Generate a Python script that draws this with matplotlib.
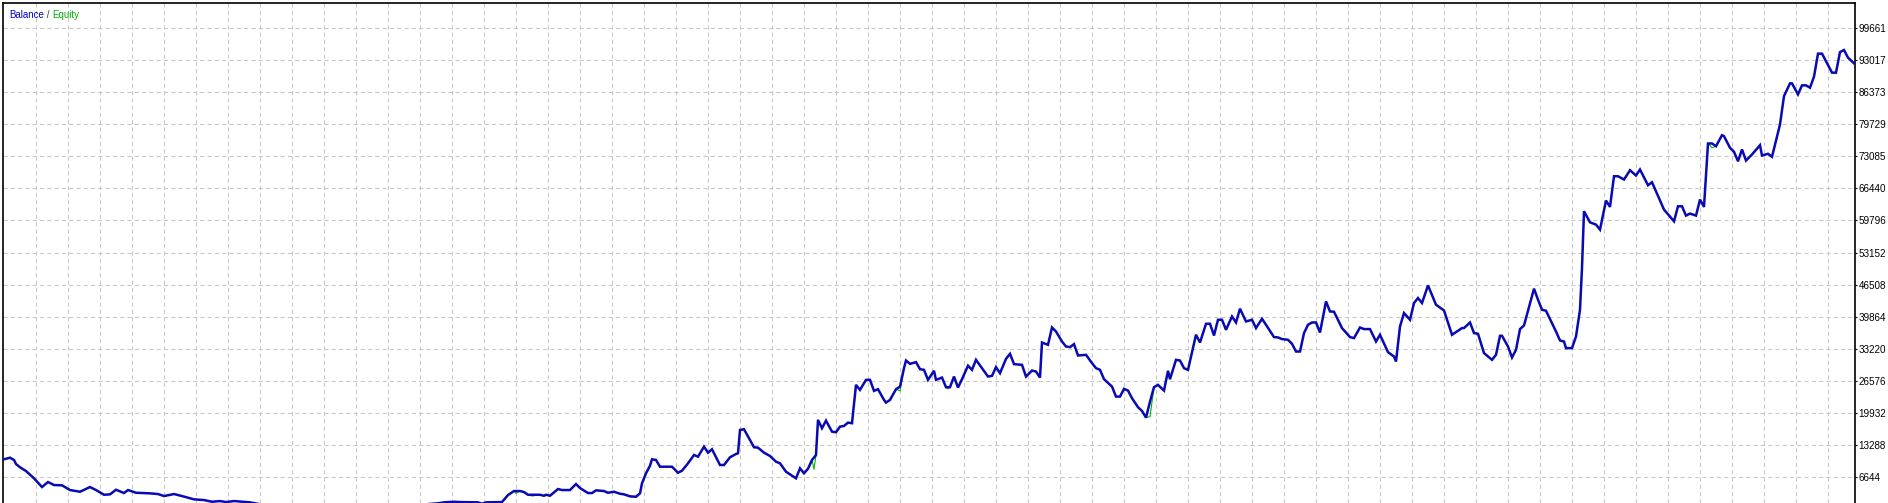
import matplotlib
matplotlib.use("Agg")
import matplotlib.pyplot as plt

# deal number vs balance
deals = [0, 3, 5, 6, 8, 11, 15, 19, 22, 25, 29, 33, 38, 43, 46, 50, 53, 56, 60, 62,
         66, 73, 77, 80, 85, 89, 95, 100, 104, 108, 111, 115, 123, 128, 143, 163, 188, 208, 217, 220,
         225, 228, 237, 239, 241, 249, 252, 255, 258, 260, 262, 268, 270, 271, 273, 277, 279, 283, 286, 288,
         292, 294, 296, 300, 302, 305, 308, 310, 313, 316, 318, 319, 321, 323, 324, 326, 328, 334, 337, 339,
         342, 345, 347, 350, 352, 354, 358, 360, 363, 366, 367, 368, 370, 375, 377, 380, 383, 386, 388, 391,
         396, 398, 400, 402, 404, 406, 407, 409, 411, 414, 416, 418, 420, 422, 424, 426, 428, 431, 433, 435,
         437, 440, 441, 443, 446, 448, 450, 451, 453, 456, 458, 460, 462, 465, 466, 469, 471, 473, 475, 477,
         479, 482, 484, 486, 489, 492, 494, 496, 498, 501, 503, 505, 509, 511, 514, 516, 518, 519, 522, 524,
         526, 529, 531, 533, 535, 537, 541, 544, 546, 548, 550, 554, 556, 558, 560, 562, 564, 567, 569, 571,
         573, 575, 577, 580, 582, 583, 586, 588, 590, 592, 594, 596, 598, 601, 603, 605, 607, 609, 611, 614,
         616, 618, 621, 624, 626, 629, 631, 635, 637, 639, 642, 644, 646, 648, 650, 652, 654, 656, 658, 661,
         663, 665, 669, 673, 675, 678, 680, 683, 686, 688, 692, 695, 696, 698, 700, 703, 705, 707, 709, 712,
         716, 720, 724, 729, 730, 733, 735, 737, 740, 744, 746, 748, 749, 752, 754, 756, 758, 760, 765, 767,
         769, 771, 776, 778, 780, 781, 784, 786, 788, 789, 790, 793, 796, 798, 801, 803, 805, 807, 810, 813,
         816, 818, 822, 824, 830, 835, 837, 839, 841, 843, 846, 848, 850, 852, 854, 856, 859, 860, 863, 865,
         867, 869, 871, 874, 878, 879, 882, 884, 888, 890, 893, 894, 897, 899, 901, 903, 905, 907, 909, 912,
         914, 916, 918, 920, 922, 925]

balance = [10313, 10645, 10168, 9338, 8653, 7885, 6370, 4565, 5603, 4980, 4918, 3943, 3590, 4565, 3943, 2967, 3050, 4005, 3320, 3943,
           3382, 3258, 3113, 2698, 3113, 2698, 2013, 1868, 1515, 1660, 1453, 1660, 1390, 1000, 800, 600, 700, 900, 1200, 1390,
           1515, 1453, 1390, 1100, 1390, 1453, 2905, 3735, 3735, 3528, 2967, 2967, 2760, 2967, 2760, 4150, 3943, 3943, 5188, 4358,
           3320, 3320, 3880, 3735, 3382, 3590, 3175, 3050, 2635, 2552, 3258, 5333, 7408, 8985, 10313, 10168, 8777, 8777, 7532, 7947,
           9483, 11205, 10852, 12927, 11682, 12388, 9130, 9130, 10728, 11413, 11558, 16393, 16538, 12803, 12720, 11682, 10998, 9815, 9483, 7740,
           6370, 8445, 7408, 8362, 10168, 11205, 18468, 16745, 18322, 16040, 15915, 17077, 17223, 17907, 17783, 25730, 24693, 26768, 26768, 24485,
           24838, 22618, 22057, 22618, 24838, 25377, 29195, 30772, 30088, 30440, 28988, 28843, 26768, 28635, 26768, 27245, 25253, 25253, 27452, 25170,
           26913, 29700, 28843, 30918, 29195, 27452, 27598, 29403, 28158, 31125, 32163, 30025, 29880, 27452, 28697, 28490, 27245, 34507, 34030, 37620,
           36790, 34715, 33677, 33553, 34175, 31810, 31955, 30233, 29195, 28843, 26913, 25377, 23302, 23302, 24900, 24547, 22970, 21103, 20335, 18945,
           22265, 25253, 25730, 24547, 28635, 26913, 30918, 30772, 29195, 28843, 32432, 36105, 34507, 38388, 38388, 35960, 39218, 39218, 37143, 39902,
           38657, 41500, 38865, 39218, 37495, 39425, 38180, 35628, 35559, 35213, 35068, 34238, 32640, 32640, 36458, 38180, 38657, 38657, 36582, 43015,
           40940, 40878, 37495, 35628, 35420, 37620, 37288, 37288, 34715, 36105, 32515, 31602, 30565, 37827, 40608, 39218, 42683, 43720, 42683, 46335,
           42330, 41147, 36105, 37495, 37495, 38657, 36458, 36313, 32308, 30918, 31955, 35898, 35898, 33677, 31395, 32993, 37288, 38035, 45650, 43368,
           41293, 41085, 36790, 34923, 34715, 33345, 33345, 35753, 41293, 50000, 61690, 59407, 58930, 57893, 63910, 62603, 68952, 68952, 68268, 70197,
           69098, 70343, 67085, 67707, 62043, 59615, 62727, 62727, 60798, 61213, 60798, 64118, 62603, 75738, 75738, 75177, 77460, 77252, 74845, 74015,
           72065, 74493, 72210, 73455, 75385, 73248, 73600, 72978, 79680, 85552, 88188, 88188, 85905, 87773, 87773, 87295, 89578, 94350, 94350, 91985,
           90408, 90408, 94682, 95097, 93520, 92338]

# equity differs from balance only at a few deals
equity_deals = [256, 264, 405, 448, 472, 573, 854]
equity_diff = [3258, 2698, 8238, 24485, 24900, 19153, 74845]

y_ticks = [6644, 13288, 19932, 26576, 33220, 39864, 46508, 53152,
           59796, 66440, 73085, 79729, 86373, 93017, 99661]

eq = dict(zip(deals, balance))
eq.update(dict(zip(equity_deals, equity_diff)))
eq_x = sorted(eq)
eq_y = [eq[d] for d in eq_x]

font = ['Liberation Sans', 'DejaVu Sans']

fig = plt.figure(figsize=(18.88, 5.03), dpi=100)
ax = fig.add_axes([3 / 1888, 0, 1852 / 1888, 500 / 503])

ax.plot(eq_x, eq_y, color='#00b400', lw=0.8, zorder=2)
ax.plot(deals, balance, color='#0a0ab4', lw=1.8, zorder=3, solid_joinstyle='miter')

ax.set_xlim(-0.5, 925.5)
ax.set_ylim(1258, 104840)

ax.set_xticks([16.2 + 16 * k for k in range(57)])
ax.set_yticks(y_ticks)
ax.set_yticklabels([str(v) for v in y_ticks])
ax.grid(True, color='#c8c8c8', linestyle=(0, (4, 3)), linewidth=0.75)
ax.set_axisbelow(True)

ax.yaxis.tick_right()
ax.tick_params(axis='x', length=0, labelbottom=False)
ax.tick_params(axis='y', direction='out', length=1.5, width=0.8, pad=1.0,
               labelsize=7.1, colors='black')
for lab in ax.get_yticklabels():
    lab.set_family(font)

for side in ['left', 'top', 'right']:
    ax.spines[side].set_color('black')
    ax.spines[side].set_linewidth(1.2)
ax.spines['bottom'].set_visible(False)

t1 = ax.text(6 / 1852, 1 - 12 / 500, 'Balance', transform=ax.transAxes,
             color='#0000c0', fontsize=7, family=font, va='center', ha='left')
t2 = ax.annotate(' / ', xy=(1, 0.5), xycoords=t1, color='#404040', fontsize=7,
                 family=font, va='center', ha='left')
t3 = ax.annotate('Equity', xy=(1, 0.5), xycoords=t2, color='#00b000', fontsize=7,
                 family=font, va='center', ha='left')

plt.savefig('out.png', dpi=100)
